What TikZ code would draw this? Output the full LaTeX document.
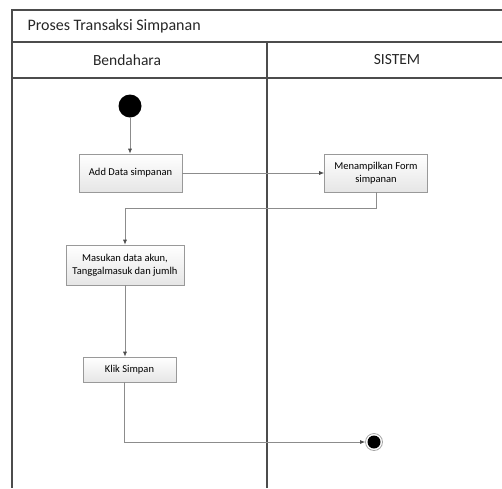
\documentclass[tikz,border=0pt]{standalone}
\usepackage{fontspec}
\setmainfont{Carlito}
\usetikzlibrary{arrows.meta}
\begin{document}
\begin{tikzpicture}[x=1pt,y=-1pt,
  frame/.style={draw=black!70,line width=2.4pt},
  act/.style={draw=black!40,line width=0.7pt,top color=white,bottom color=black!10,align=center,font=\fontsize{10.5}{13}\selectfont,inner sep=0pt},
  flow/.style={draw=black!45,line width=0.7pt,-{Latex[length=5pt,width=4pt,black!70]}},
  lbl/.style={font=\fontsize{15.5}{18}\selectfont,text=black!85}]
\useasboundingbox (0,0) rectangle (502,488);
% frame
\draw[frame] (502,10) -- (12,10) -- (12,488);
\draw[frame] (12,42) -- (502,42);
\draw[frame] (12,78) -- (502,78);
\draw[frame] (267,42) -- (267,488);
\node[lbl,anchor=west,font=\fontsize{16}{18}\selectfont] (title) at (24,26) {Proses Transaksi Simpanan};
\node[lbl] (lane1) at (127,60) {Bendahara};
\node[lbl] (lane2) at (397,60) {SISTEM};
% nodes
\node[circle,fill=black,minimum size=23pt,inner sep=0pt] (start) at (130,106) {};
\node[act,minimum width=103pt,minimum height=38pt] (add) at (130.5,173) {Add Data simpanan};
\node[act,minimum width=103pt,minimum height=38pt] (form) at (376,173) {Menampilkan Form\\simpanan};
\node[act,minimum width=118pt,minimum height=40pt] (masuk) at (125,265) {Masukan data akun,\\Tanggalmasuk dan jumlh};
\node[act,minimum width=93pt,minimum height=25pt] (klik) at (129.5,369.5) {Klik Simpan};
\node[circle,draw=black!35,line width=0.8pt,minimum size=17pt,inner sep=0pt] (end) at (374,442) {};
\node[circle,fill=black,minimum size=13pt,inner sep=0pt] (endin) at (374,442) {};
\coordinate (b1) at (376,208);
\coordinate (b2) at (125,208);
\coordinate (c1) at (124,442);
% connectors
\draw[flow] (start) -- (start |- add.north);
\draw[flow] (add) -- (form);
\draw[flow] (form.south -| b1) -- (b1) -- (b2) -- (masuk.north -| b2);
\draw[flow] (masuk.south) -- (klik.north -| masuk.south);
\draw[flow] (klik.south -| c1) -- (c1) -- (end.west);
\end{tikzpicture}
\end{document}
